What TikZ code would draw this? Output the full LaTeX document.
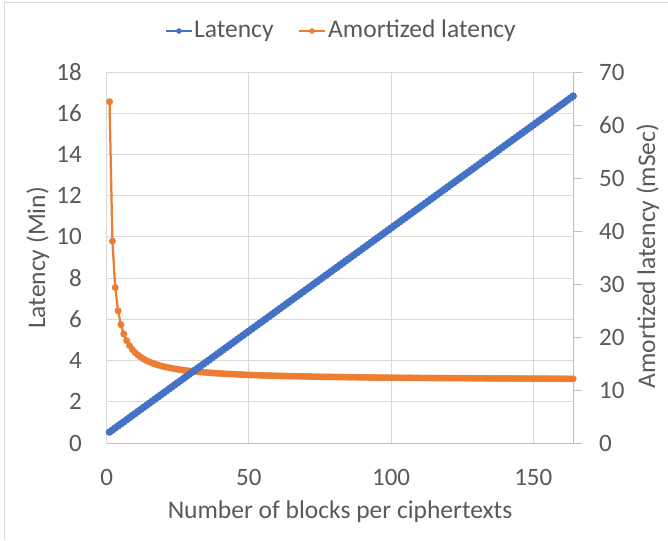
\documentclass[tikz,border=0pt]{standalone}
\usepackage{fontspec}
\setmainfont{Carlito}
\usepackage{xcolor}
\definecolor{excelBlue}{RGB}{68,114,196}
\definecolor{excelOrange}{RGB}{237,125,49}
\definecolor{excelText}{RGB}{89,89,89}
\definecolor{excelGrid}{RGB}{217,217,217}
\definecolor{excelAxis}{RGB}{191,191,191}

\tikzset{
  ticklabel/.style={font=\fontsize{25}{30}\selectfont, text=excelText, inner sep=0pt},
  axistitle/.style={font=\fontsize{25.5}{30}\selectfont, text=excelText, inner sep=0pt},
  gridline/.style={excelGrid, line width=1pt},
  axisline/.style={excelAxis, line width=1pt},
  latline/.style={excelBlue, line width=2.25pt},
  amoline/.style={excelOrange, line width=2.25pt},
}

\begin{document}
\begin{tikzpicture}[x=1pt, y=-1pt]
\useasboundingbox[fill=white] (0,0) rectangle (668,540);
% chart area frame
\draw[excelGrid, line width=1pt] (4,540) -- (4,3) -- (668,3);

% legend
\coordinate (legLatA) at (166,31);
\coordinate (legLatB) at (192,31);
\draw[excelBlue, line width=2pt] (legLatA) -- (legLatB);
\fill[excelBlue] (179,31) circle[radius=2.8pt];
\node[axistitle, anchor=base west] (legLat) at (194,38) {Latency};
\coordinate (legAmoA) at (299,31);
\coordinate (legAmoB) at (325,31);
\draw[excelOrange, line width=2pt] (legAmoA) -- (legAmoB);
\fill[excelOrange] (312,31) circle[radius=2.8pt];
\node[axistitle, anchor=base west] (legAmo) at (328,38) {Amortized latency};

% axis titles
\node[axistitle, anchor=base, rotate=90] (ytitle) at (45,258) {Latency (Min)};
\node[axistitle, anchor=base, rotate=90] (y2title) at (655,256) {Amortized latency (mSec)};
\node[axistitle, anchor=base] (xtitle) at (340,518) {Number of blocks per ciphertexts};

% primary axis: latency in minutes
\begin{scope}[shift={(106.7,443)}, x=2.844pt, y=20.61pt]
  \foreach \v in {0,2,...,18} {
    \draw[gridline] (0,\v) -- (164.3,\v);
    \node[ticklabel, anchor=east, xshift=-24.7pt] (ylab\v) at (0,\v) {\v};
  }
  \foreach \n in {0,50,100,150} {
    \draw[gridline] (\n,0) -- (\n,18);
    \node[ticklabel, yshift=-34pt] (xlab\n) at (\n,0) {\n};
  }
  \draw[axisline] (0,0) -- (164.3,0);
\end{scope}

% secondary axis: amortized latency in mSec
\begin{scope}[shift={(106.7,443)}, x=2.844pt, y=5.2997pt]
  \draw[axisline] (164.3,0) -- (164.3,70);
  \foreach \v in {0,10,...,70} {
    \draw[axisline] (164.3,\v) -- ++(8pt,0);
    \node[ticklabel, anchor=west, xshift=25pt] (y2lab\v) at (164.3,\v) {\v};
  }
  % amortized latency series
  \draw[amoline] plot[domain=1:164, samples=164] (\x, {11.8+52.6/\x});
  \foreach \n in {1,...,164}
    \fill[excelOrange] (\n, {11.8+52.6/\n}) circle[radius=3.5pt];
\end{scope}

% latency series
\begin{scope}[shift={(106.7,443)}, x=2.844pt, y=20.61pt]
  \draw[latline] plot[domain=1:164, samples=164] (\x, {0.43+0.1*\x});
  \foreach \n in {1,...,164}
    \fill[excelBlue] (\n, {0.43+0.1*\n}) circle[radius=3.8pt];
\end{scope}
\end{tikzpicture}
\end{document}
